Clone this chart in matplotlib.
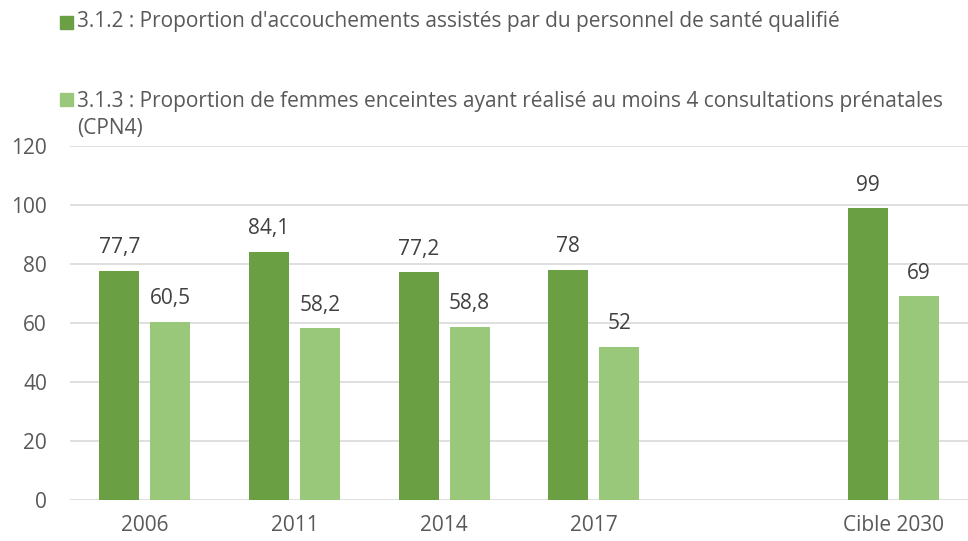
import matplotlib
matplotlib.use("Agg")
import matplotlib.pyplot as plt
from matplotlib.patches import Rectangle
import numpy as np

plt.rcParams['font.family'] = ['Open Sans', 'DejaVu Sans']

categories = ["2006", "2011", "2014", "2017", "", "Cible 2030"]
serie_312 = [77.7, 84.1, 77.2, 78, None, 99]
serie_313 = [60.5, 58.2, 58.8, 52, None, 69]
labels_312 = ["77,7", "84,1", "77,2", "78", "", "99"]
labels_313 = ["60,5", "58,2", "58,8", "52", "", "69"]
legend_312 = "3.1.2 : Proportion d'accouchements assistés par du personnel de santé qualifié"
legend_313 = "3.1.3 : Proportion de femmes enceintes ayant réalisé au moins 4 consultations prénatales\n(CPN4)"
yticks = [0, 20, 40, 60, 80, 100, 120]

c_dark = "#6A9F43"
c_light = "#9AC87A"
txt = "#595959"
FS = 15

fig = plt.figure(figsize=(9.68, 5.41), dpi=100)
ax = fig.add_axes([0.0723, 0.0758, 0.9277, 0.6542])

x = np.arange(len(categories))
w = 0.267
off = 0.17
for i in range(len(categories)):
    if serie_312[i] is None:
        continue
    ax.bar(x[i] - off, serie_312[i], w, color=c_dark, zorder=3)
    ax.bar(x[i] + off, serie_313[i], w, color=c_light, zorder=3)
    ax.annotate(labels_312[i], (x[i] - off, serie_312[i]), xytext=(0, 9),
                textcoords="offset points", ha="center", va="bottom",
                fontsize=FS, color="#404040")
    ax.annotate(labels_313[i], (x[i] + off, serie_313[i]), xytext=(0, 9),
                textcoords="offset points", ha="center", va="bottom",
                fontsize=FS, color="#404040")

ax.set_xlim(-0.5, len(categories) - 0.5)
ax.set_ylim(0, 120)
ax.set_yticks(yticks)
ax.set_xticks(x)
ax.set_xticklabels(categories)
ax.tick_params(axis='both', length=0, labelsize=FS, colors=txt)
ax.tick_params(axis='x', pad=11)
ax.tick_params(axis='y', pad=16.5)
ax.grid(axis='y', color="#D9D9D9", linewidth=1.2, zorder=0)
for s in ax.spines.values():
    s.set_visible(False)

# Legend (manual, two separate rows)
H, W = 541, 968
fig.patches.append(Rectangle((60 / W, 1 - 29 / H), 13 / W, 13 / H,
                             transform=fig.transFigure, color=c_dark, figure=fig))
fig.text(77 / W, 1 - 22 / H, legend_312, fontsize=FS, color=txt, va="center",
         ha="left")
fig.patches.append(Rectangle((60 / W, 1 - 106 / H), 13 / W, 13 / H,
                             transform=fig.transFigure, color=c_light, figure=fig))
fig.text(77 / W, 1 - 115 / H, legend_313, fontsize=FS, color=txt, va="center",
         ha="left", linespacing=1.35)

fig.savefig("out.png", dpi=100)
